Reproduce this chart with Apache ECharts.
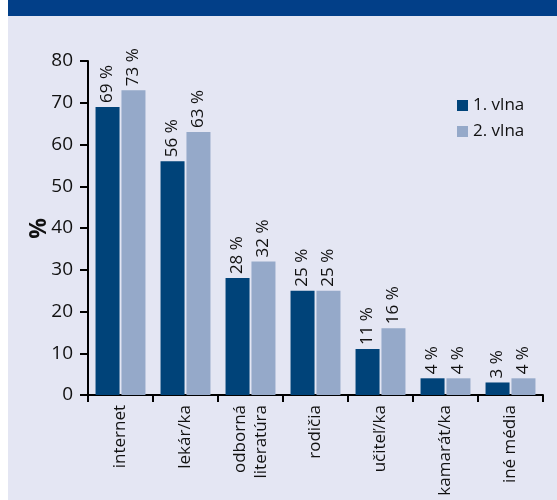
<!DOCTYPE html>
<html>
<head>
<meta charset="utf-8">
<script src="https://cdn.jsdelivr.net/npm/echarts@6/dist/echarts.min.js"></script>
<style>
  html, body { margin: 0; padding: 0; background: #fff; }
  #chart { width: 557px; height: 500px; }
</style>
</head>
<body>
<div id="chart"></div>
<script>
const categories = ["internet", "lekár/ka", "odborná\nliteratúra", "rodičia", "učiteľ/ka", "kamarát/ka", "iné média"];
const wave1 = [69, 56, 28, 25, 11, 4, 3];
const wave2 = [73, 63, 32, 25, 16, 4, 4];
const seriesNames = ["1. vlna", "2. vlna"];

const font = "'Open Sans', Lato, sans-serif";
const chart = echarts.init(document.getElementById("chart"), null, { renderer: "canvas" });

const barLabel = {
  show: true,
  position: "top",
  rotate: 90,
  align: "left",
  verticalAlign: "middle",
  distance: 4,
  formatter: (p) => p.value + " %",
  color: "#111",
  fontSize: 17,
  fontFamily: font
};

chart.setOption({
  backgroundColor: "#E4E6F3",
  animation: false,
  graphic: [
    { type: "rect", left: 0, top: 0, shape: { width: 8, height: 500 }, style: { fill: "#ffffff" }, silent: true },
    { type: "rect", left: 8, top: 0, shape: { width: 549, height: 16 }, style: { fill: "#023F88" }, silent: true },
    { type: "text", left: 28, top: 218, rotation: Math.PI / 2,
      style: { text: "%", font: "bold 23px " + font, fill: "#111" } }
  ],
  legend: {
    data: seriesNames,
    orient: "vertical",
    left: 452,
    top: 92,
    itemWidth: 11,
    itemHeight: 11,
    itemGap: 9,
    icon: "rect",
    textStyle: { fontSize: 17, fontFamily: font, color: "#111", padding: [0, 0, 0, 0] }
  },
  grid: { left: 88, right: 14, top: 61, bottom: 105 },
  xAxis: {
    type: "category",
    data: categories,
    axisLine: { lineStyle: { color: "#000", width: 2 } },
    axisTick: { show: true, length: 7, lineStyle: { color: "#000", width: 2 } },
    axisLabel: {
      rotate: 90,
      interval: 0,
      margin: 10,
      fontSize: 17,
      lineHeight: 21,
      fontFamily: font,
      color: "#111"
    }
  },
  yAxis: {
    type: "value",
    min: 0,
    max: 80,
    interval: 10,
    splitLine: { show: false },
    axisLine: { show: true, lineStyle: { color: "#000", width: 2 } },
    axisTick: { show: true, length: 8, lineStyle: { color: "#000", width: 2 } },
    axisLabel: { fontSize: 19, fontFamily: font, color: "#111", margin: 15 }
  },
  series: [
    {
      name: seriesNames[0],
      type: "bar",
      data: wave1,
      barWidth: 24,
      barGap: "8%",
      itemStyle: { color: "#004379" },
      label: barLabel
    },
    {
      name: seriesNames[1],
      type: "bar",
      data: wave2,
      barWidth: 24,
      itemStyle: { color: "#95A9C9" },
      label: barLabel
    }
  ]
});
</script>
</body>
</html>
